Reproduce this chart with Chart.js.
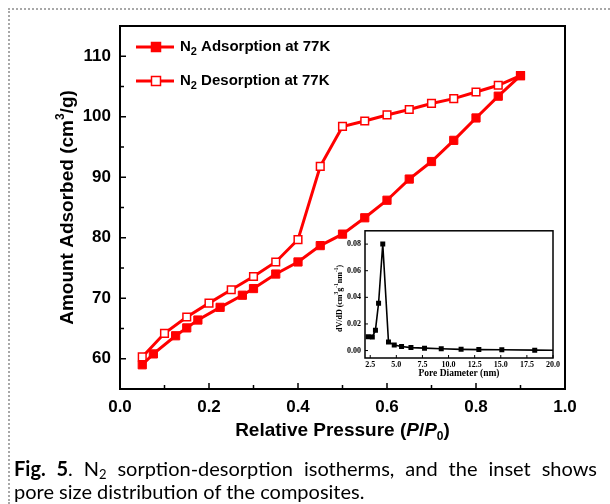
<!DOCTYPE html>
<html>
<head>
<meta charset="utf-8">
<script src="https://cdn.jsdelivr.net/npm/chart.js@4.4.0/dist/chart.umd.min.js"></script>
<style>
  html,body{ margin:0; padding:0; background:#fff; }
  .wrap{ position:relative; width:610px; height:504px; overflow:hidden; background:#fff; }
  #main{ position:absolute; left:0; top:0; }
  #inset{ position:absolute; left:300px; top:222px; }
  .bd-l{ position:absolute; left:8px; top:8px; bottom:0; border-left:2px dotted #a8a8a8; }
  .bd-t{ position:absolute; left:8px; top:8px; right:0; border-top:2px dotted #a8a8a8; }
  .caption{ position:absolute; left:14px; top:457px; width:583px; font-family:Lato, "Open Sans", sans-serif; font-size:20px; line-height:23px; color:#000; white-space:nowrap; }
  .caption .l1{ text-align:justify; text-align-last:justify; white-space:normal; }
  .caption sub{ font-size:0.65em; vertical-align:-0.2em; line-height:0; }
</style>
</head>
<body>
<div class="wrap">
  <div class="bd-l"></div><div class="bd-t"></div>
  <canvas id="main" width="610" height="504"></canvas>
  <canvas id="inset" width="262" height="165"></canvas>
  <div class="caption">
    <div class="l1"><b>Fig. 5</b>. N<sub>2</sub> sorption-desorption isotherms, and the inset shows</div>
    <div>pore size distribution of the composites.</div>
  </div>
</div>
<script>
// ---- isotherm data ----
const adsP = [0.05, 0.075, 0.125, 0.15, 0.175, 0.225, 0.275, 0.3, 0.35, 0.4, 0.45, 0.5, 0.55, 0.6, 0.65, 0.7, 0.75, 0.8, 0.85, 0.9];
const adsV = [59.0, 60.8, 63.8, 65.1, 66.4, 68.5, 70.5, 71.6, 74.0, 76.0, 78.7, 80.6, 83.3, 86.2, 89.7, 92.6, 96.1, 99.8, 103.4, 106.8];
const desP = [0.9, 0.85, 0.8, 0.75, 0.7, 0.65, 0.6, 0.55, 0.5, 0.45, 0.4, 0.35, 0.3, 0.25, 0.2, 0.15, 0.1, 0.05];
const desV = [106.8, 105.2, 104.1, 103.0, 102.2, 101.2, 100.3, 99.3, 98.4, 91.8, 79.7, 76.0, 73.6, 71.4, 69.2, 66.9, 64.2, 60.3];

const xTicks = [0, 0.2, 0.4, 0.6, 0.8, 1.0];
const xMinor = [0.1, 0.3, 0.5, 0.7, 0.9];
const yTicks = [60, 70, 80, 90, 100, 110];
const yMinor = [65, 75, 85, 95, 105];

// ---- inset: pore size distribution ----
const poreD  = [2.3, 2.7, 3.0, 3.3, 3.7, 4.25, 4.8, 5.5, 6.4, 7.7, 9.3, 11.2, 12.9, 15.1, 18.25, 20.0];
const poreDV = [0.0104, 0.0101, 0.0153, 0.0356, 0.0800, 0.0064, 0.0042, 0.0030, 0.0022, 0.0018, 0.0013, 0.0009, 0.0007, 0.0006, 0.0003, 0.0002];
const insetXTicks = [2.5, 5.0, 7.5, 10.0, 12.5, 15.0, 17.5, 20.0];
const insetYTicks = [0, 0.02, 0.04, 0.06, 0.08];

const RED = '#ff0000';
const SANS = '"Liberation Sans", Arial, sans-serif';
const SERIF = '"Liberation Serif", "Times New Roman", serif';

const pts = (xs, ys) => xs.map((v,i)=>({x:v, y:ys[i]}));

// draw a run of text pieces (font / vertical offset) starting at x
function richWidth(ctx, parts){
  let w = 0;
  parts.forEach(p=>{ ctx.font = p.font; w += ctx.measureText(p.t).width; });
  return w;
}
function drawRich(ctx, parts, x, y){
  ctx.textAlign = 'left'; ctx.textBaseline = 'middle';
  parts.forEach(p=>{ ctx.font = p.font; ctx.fillText(p.t, x, y + (p.dy||0)); x += ctx.measureText(p.t).width; });
}

const mainDecor = {
  id:'mainDecor',
  afterDraw(chart){
    const {ctx, chartArea:a, scales:{x, y}} = chart;
    ctx.save();
    ctx.strokeStyle = '#000';
    // inward ticks
    ctx.lineWidth = 1.5;
    ctx.beginPath();
    xTicks.forEach(v=>{ const px = x.getPixelForValue(v); ctx.moveTo(px, a.bottom); ctx.lineTo(px, a.bottom-6); });
    xMinor.forEach(v=>{ const px = x.getPixelForValue(v); ctx.moveTo(px, a.bottom); ctx.lineTo(px, a.bottom-4); });
    yTicks.forEach(v=>{ const py = y.getPixelForValue(v); ctx.moveTo(a.left, py); ctx.lineTo(a.left+6, py); });
    yMinor.forEach(v=>{ const py = y.getPixelForValue(v); ctx.moveTo(a.left, py); ctx.lineTo(a.left+4, py); });
    ctx.stroke();
    // frame
    ctx.lineWidth = 2;
    ctx.strokeRect(a.left, a.top, a.right-a.left, a.bottom-a.top);

    // legend
    const bold = 'bold 15px ' + SANS, sub = 'bold 11px ' + SANS;
    [[47, true, 'Adsorption at 77K'], [81, false, 'Desorption at 77K']].forEach(([ly, filled, txt])=>{
      ctx.strokeStyle = RED; ctx.lineWidth = 3;
      ctx.beginPath(); ctx.moveTo(136, ly); ctx.lineTo(174, ly); ctx.stroke();
      ctx.lineWidth = 1.5;
      ctx.fillStyle = filled ? RED : '#fff';
      ctx.fillRect(151.5, ly-4.5, 9, 9); ctx.strokeRect(151.5, ly-4.5, 9, 9);
      ctx.fillStyle = '#000';
      drawRich(ctx, [{t:'N', font:bold}, {t:'2', font:sub, dy:5}, {t:' ' + txt, font:bold}], 180, ly);
    });

    // axis titles
    const tf = 'bold 19px ' + SANS, tfi = 'italic bold 19px ' + SANS, ts = 'bold 12px ' + SANS;
    const xt = [{t:'Relative Pressure (', font:tf}, {t:'P', font:tfi}, {t:'/', font:tf}, {t:'P', font:tfi}, {t:'0', font:ts, dy:6}, {t:')', font:tf}];
    const cx = (a.left + a.right)/2;
    drawRich(ctx, xt, cx - richWidth(ctx, xt)/2, 431);

    const yt = [{t:'Amount Adsorbed (cm', font:tf}, {t:'3', font:ts, dy:-7}, {t:'/g)', font:tf}];
    ctx.translate(68, (a.top + a.bottom)/2);
    ctx.rotate(-Math.PI/2);
    drawRich(ctx, yt, -richWidth(ctx, yt)/2, 0);
    ctx.restore();
  }
};

new Chart(document.getElementById('main'), {
  type:'line',
  data:{ datasets:[
    { label:'N2 Adsorption at 77K', data: pts(adsP, adsV), borderColor:RED, backgroundColor:RED,
      borderWidth:3, pointStyle:'rect', pointRadius:5.8, pointBorderWidth:1, pointBackgroundColor:RED, pointBorderColor:RED, tension:0 },
    { label:'N2 Desorption at 77K', data: pts(desP, desV), borderColor:RED, backgroundColor:'#fff',
      borderWidth:3, pointStyle:'rect', pointRadius:5.4, pointBorderWidth:1.5, pointBackgroundColor:'#fff', pointBorderColor:RED, tension:0 }
  ]},
  options:{
    responsive:false, animation:false, parsing:false,
    layout:{ padding:{ top:26, right:45, left:0, bottom:0 } },
    plugins:{ legend:{display:false}, tooltip:{enabled:false} },
    scales:{
      x:{ type:'linear', min:0, max:1,
          afterBuildTicks: s => { s.ticks = xTicks.map(v=>({value:v})); },
          afterFit: s => { s.height = 115; },
          ticks:{ callback: v => v.toFixed(1), font:{family:SANS, size:17, weight:'bold'}, color:'#000', padding:8, maxRotation:0, autoSkip:false },
          grid:{ display:false, drawTicks:false }, border:{ display:false } },
      y:{ type:'linear', min:55, max:115,
          afterBuildTicks: s => { s.ticks = yTicks.map(v=>({value:v})); },
          afterFit: s => { s.width = 120; },
          ticks:{ font:{family:SANS, size:17, weight:'bold'}, color:'#000', padding:9 },
          grid:{ display:false, drawTicks:false }, border:{ display:false } }
    }
  },
  plugins:[mainDecor]
});

const insetDecor = {
  id:'insetDecor',
  beforeDraw(chart){
    const {ctx, chartArea:a} = chart;
    ctx.save(); ctx.fillStyle = '#fff'; ctx.fillRect(a.left, a.top, a.right-a.left, a.bottom-a.top); ctx.restore();
  },
  afterDraw(chart){
    const {ctx, chartArea:a, scales:{x, y}} = chart;
    ctx.save();
    ctx.strokeStyle = '#000'; ctx.lineWidth = 1;
    ctx.beginPath();
    insetXTicks.forEach(v=>{ const px = x.getPixelForValue(v); ctx.moveTo(px, a.bottom); ctx.lineTo(px, a.bottom-3); });
    insetYTicks.forEach(v=>{ const py = y.getPixelForValue(v); ctx.moveTo(a.left, py); ctx.lineTo(a.left+3, py); });
    ctx.stroke();
    ctx.lineWidth = 1.5;
    ctx.strokeRect(a.left, a.top, a.right-a.left, a.bottom-a.top);
    ctx.fillStyle = '#000';
    ctx.font = 'bold 9.5px ' + SERIF; ctx.textAlign = 'center'; ctx.textBaseline = 'middle';
    ctx.fillText('Pore Diameter (nm)', (a.left+a.right)/2, 152);
    const f = 'bold 8px ' + SERIF, s = 'bold 5.5px ' + SERIF;
    const yt = [{t:'dV/dD (cm', font:f}, {t:'3', font:s, dy:-3}, {t:'g', font:f}, {t:'-1', font:s, dy:-3}, {t:'nm', font:f}, {t:'-1', font:s, dy:-3}, {t:')', font:f}];
    ctx.translate(40, (a.top + a.bottom)/2 + 4);
    ctx.rotate(-Math.PI/2);
    drawRich(ctx, yt, -richWidth(ctx, yt)/2, 0);
    ctx.restore();
  }
};

new Chart(document.getElementById('inset'), {
  type:'line',
  data:{ datasets:[
    { data: pts(poreD, poreDV), borderColor:'#000', backgroundColor:'#000', borderWidth:1.6,
      pointStyle:'rect', pointRadius: poreD.map((v,i)=> i === poreD.length-1 ? 0 : 2.4), pointBackgroundColor:'#000', pointBorderColor:'#000', tension:0 }
  ]},
  options:{
    responsive:false, animation:false, parsing:false,
    layout:{ padding:{ top:7, right:9, left:0, bottom:0 } },
    plugins:{ legend:{display:false}, tooltip:{enabled:false} },
    scales:{
      x:{ type:'linear', min:2, max:20,
          afterBuildTicks: s => { s.ticks = insetXTicks.map(v=>({value:v})); },
          afterFit: s => { s.height = 29; },
          ticks:{ callback: v => v.toFixed(1), font:{family:SERIF, size:8, weight:'bold'}, color:'#000', padding:2, maxRotation:0, autoSkip:false },
          grid:{ display:false, drawTicks:false }, border:{ display:false } },
      y:{ type:'linear', min:-0.0056, max:0.09,
          afterBuildTicks: s => { s.ticks = insetYTicks.map(v=>({value:v})); },
          afterFit: s => { s.width = 65; },
          ticks:{ callback: v => v.toFixed(2), font:{family:SERIF, size:8, weight:'bold'}, color:'#000', padding:4 },
          grid:{ display:false, drawTicks:false }, border:{ display:false } }
    }
  },
  plugins:[insetDecor]
});
</script>
</body>
</html>
